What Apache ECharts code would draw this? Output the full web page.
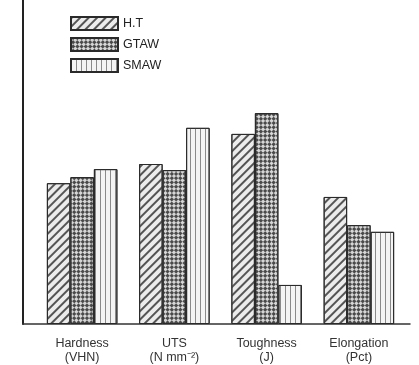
<!DOCTYPE html>
<html><head><meta charset="utf-8">
<script src="https://cdn.jsdelivr.net/npm/echarts@6/dist/echarts.min.js"></script>
<style>html,body{margin:0;padding:0;background:#fff}#c{width:419px;height:365px}</style>
</head><body><div id="c"></div>
<script>
var categories = ['Hardness\n(VHN)', 'UTS\n(N mm⁻²)', 'Toughness\n(J)', 'Elongation\n(Pct)'];
var seriesNames = ['H.T', 'GTAW', 'SMAW'];
var htValues = [44, 50, 59.4, 39.7];
var gtawValues = [45.9, 48.1, 65.9, 30.9];
var smawValues = [48.4, 61.3, 12.2, 28.8];

var chart = echarts.init(document.getElementById('c'), null, {renderer: 'canvas'});
var font = 'Liberation Sans, Arial, sans-serif';
function bar(name, data, bg, decal) {
  return {
    name: name, type: 'bar', data: data, xAxisIndex: 0, yAxisIndex: 0,
    barWidth: 23.5, barGap: '0%',
    itemStyle: {color: bg, borderColor: '#2a2a2a', borderWidth: 1, decal: decal},
    emphasis: {disabled: true}
  };
}
chart.setOption({
  animation: false,
  aria: {enabled: true, decal: {show: true}},
  legend: {
    orient: 'vertical', left: 65, top: 11, itemWidth: 47, itemHeight: 13, itemGap: 6,
    icon: 'rect',
    textStyle: {fontFamily: font, fontSize: 12.5, color: '#222'},
    data: seriesNames
  },
  grid: [
    {left: 36, right: 14, top: 4, bottom: 41},
    {left: 23, right: 9, top: 0, bottom: 41}
  ],
  xAxis: [
    {type: 'category', gridIndex: 0, data: categories,
     axisLine: {show: false}, axisTick: {show: false},
     axisLabel: {fontFamily: font, fontSize: 12.5, color: '#333', margin: 13, lineHeight: 14}},
    {type: 'value', gridIndex: 1, min: 0, max: 1,
     axisLine: {show: true, onZero: false, lineStyle: {color: '#333', width: 1.5}},
     axisTick: {show: false}, axisLabel: {show: false}, splitLine: {show: false}}
  ],
  yAxis: [
    {type: 'value', gridIndex: 0, min: 0, max: 100, show: false},
    {type: 'value', gridIndex: 1, min: 0, max: 1,
     axisLine: {show: true, onZero: false, lineStyle: {color: '#222', width: 2}},
     axisTick: {show: false}, axisLabel: {show: false}, splitLine: {show: false}}
  ],
  series: [
    bar(seriesNames[0], htValues, '#ececec',
        {color: '#555', symbol: 'rect', dashArrayX: [1, 0], dashArrayY: [2, 4], rotation: -Math.PI / 4}),
    bar(seriesNames[1], gtawValues, '#d6d6d6',
        {color: '#4a4a4a', symbol: 'rect', dashArrayX: [[3, 3], [0, 3, 3, 0]], dashArrayY: [3, 0], rotation: Math.PI / 4, symbolSize: 1}),
    bar(seriesNames[2], smawValues, '#f4f4f4',
        {color: '#8a8a8a', symbol: 'rect', dashArrayX: [[1, 4]], dashArrayY: [1, 0], rotation: 0})
  ]
});
</script></body></html>
